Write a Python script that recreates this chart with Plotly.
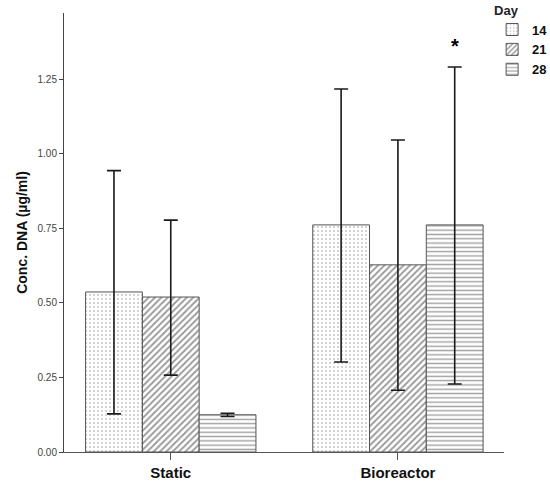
import plotly.graph_objects as go

categories = ["Static", "Bioreactor"]
days = ["14", "21", "28"]
# mean concentration per day, [Static, Bioreactor]
means = {
    "14": [0.537, 0.762],
    "21": [0.520, 0.628],
    "28": [0.125, 0.762],
}
upper = {
    "14": [0.944, 1.218],
    "21": [0.778, 1.047],
    "28": [0.130, 1.292],
}
lower = {
    "14": [0.128, 0.302],
    "21": [0.258, 0.207],
    "28": [0.119, 0.228],
}
patterns = {"14": ".", "21": "/", "28": "-"}
pattern_colors = {"14": "#8a8a8a", "21": "#333333", "28": "#444444"}
pattern_sizes = {"14": 4, "21": 4.5, "28": 4.3}
pattern_solid = {"14": 0.2, "21": 0.4, "28": 0.33}

fig = go.Figure()
for d in days:
    fig.add_trace(go.Bar(
        x=categories,
        y=means[d],
        name="<b>" + d + "</b>",
        marker=dict(
            color="white",
            line=dict(color="#555555", width=1),
            pattern=dict(shape=patterns[d], fgcolor=pattern_colors[d], bgcolor="white",
                         size=pattern_sizes[d], solidity=pattern_solid[d], fillmode="overlay"),
        ),
        error_y=dict(
            type="data", symmetric=False,
            array=[u - m for u, m in zip(upper[d], means[d])],
            arrayminus=[m - l for m, l in zip(means[d], lower[d])],
            color="#1a1a1a", thickness=1.6, width=7,
        ),
    ))

bargap = 0.25
bar_w = (1 - bargap) / len(days)
star_x = 1 + bar_w * (2 - (len(days) - 1) / 2)
star_y = upper["28"][1] + 0.07

fig.add_annotation(x=star_x, y=star_y, xref="x", yref="y", text="<b>*</b>",
                   showarrow=False, font=dict(size=20, color="black", family="Arial"))

fig.update_layout(
    width=550, height=486,
    margin=dict(l=64, r=46, t=13, b=34, autoexpand=False),
    paper_bgcolor="white", plot_bgcolor="white",
    barmode="group", bargap=bargap, bargroupgap=0,
    font=dict(family="Liberation Sans, Arial", color="#222"),
    showlegend=True,
    legend=dict(
        title=dict(text="<b>Day</b>", font=dict(size=13, color="#222")),
        font=dict(size=13, color="#111", family="Liberation Sans, Arial"),
        x=0.973, y=1.035, xanchor="left", yanchor="top",
        bgcolor="rgba(0,0,0,0)", tracegroupgap=0,
    ),
    xaxis=dict(
        type="category", range=[-0.47, 1.467],
        showline=True, linecolor="#555", linewidth=1,
        ticks="outside", ticklen=7, tickcolor="#555",
        tickfont=dict(size=15, color="#111", family="Liberation Sans, Arial"),
        tickprefix="<b>", ticksuffix="</b>",
        showgrid=False, zeroline=False,
    ),
    yaxis=dict(
        range=[0, 1.473],
        tickvals=[0, 0.25, 0.5, 0.75, 1.0, 1.25],
        tickformat=".2f",
        showline=True, linecolor="#444", linewidth=1,
        ticks="outside", ticklen=4, tickcolor="#444",
        tickfont=dict(size=10, color="#444"),
        showgrid=False, zeroline=False,
        title=dict(text="<b>Conc. DNA (µg/ml)</b>", font=dict(size=14, color="#111"), standoff=6),
    ),
)

fig.write_html("out.html")
